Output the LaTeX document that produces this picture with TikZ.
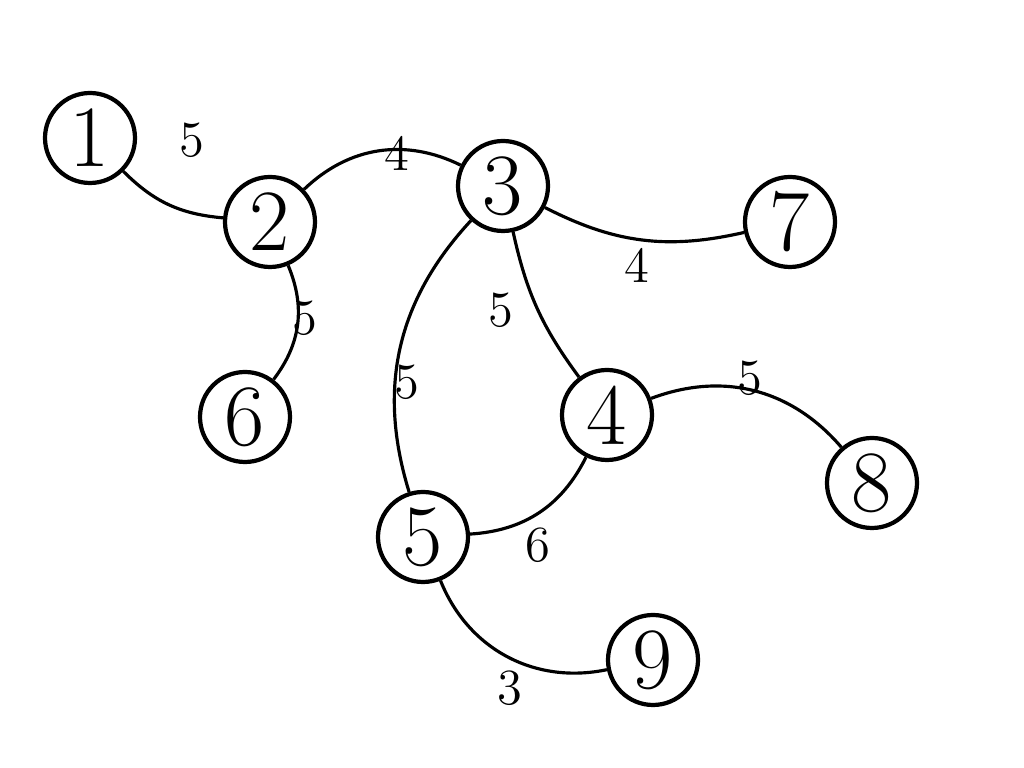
\documentclass[tikz,border=0pt]{standalone}
\usepackage{tikz}
\tikzset{
  vert/.style={circle,draw,line width=1.2pt,minimum size=0.9cm,inner sep=0pt,font=\Huge},
  wt/.style={font=\Large},
  link/.style={draw,line width=0.9pt}
}
\begin{document}
\begin{tikzpicture}
  \useasboundingbox (0,0) rectangle (10.24,7.68);

  % vertices
  \node[vert] (v1) at (0.90,6.30) {1};
  \node[vert] (v2) at (2.70,5.46) {2};
  \node[vert] (v3) at (5.03,5.82) {3};
  \node[vert] (v4) at (6.07,3.53) {4};
  \node[vert] (v5) at (4.23,2.31) {5};
  \node[vert] (v6) at (2.45,3.51) {6};
  \node[vert] (v7) at (7.90,5.46) {7};
  \node[vert] (v8) at (8.72,2.85) {8};
  \node[vert] (v9) at (6.53,1.08) {9};

  % edges
  \begin{scope}[every path/.style={link}]
    \draw (v1) to[bend right=20] (v2);
    \draw (v2) to[bend left=35] (v3);
    \draw (v3) to[bend right=20] (v7);
    \draw (v2) to[bend left=30] (v6);
    \draw (v3) to[bend right=12] (v4);
    \draw (v3) to[bend right=30] (v5);
    \draw (v4) to[bend left=35] (v8);
    \draw (v4) to[bend left=30] (v5);
    \draw (v5) to[bend right=40] (v9);
  \end{scope}

  % weights
  \node[wt] (w12) at (1.92,6.28) {5};
  \node[wt] (w23) at (3.97,6.15) {4};
  \node[wt] (w37) at (6.37,5.03) {4};
  \node[wt] (w26) at (3.05,4.50) {5};
  \node[wt] (w34) at (5.01,4.58) {5};
  \node[wt] (w35) at (4.07,3.86) {5};
  \node[wt] (w48) at (7.50,3.90) {5};
  \node[wt] (w45) at (5.38,2.23) {6};
  \node[wt] (w59) at (5.10,0.80) {3};
\end{tikzpicture}
\end{document}
